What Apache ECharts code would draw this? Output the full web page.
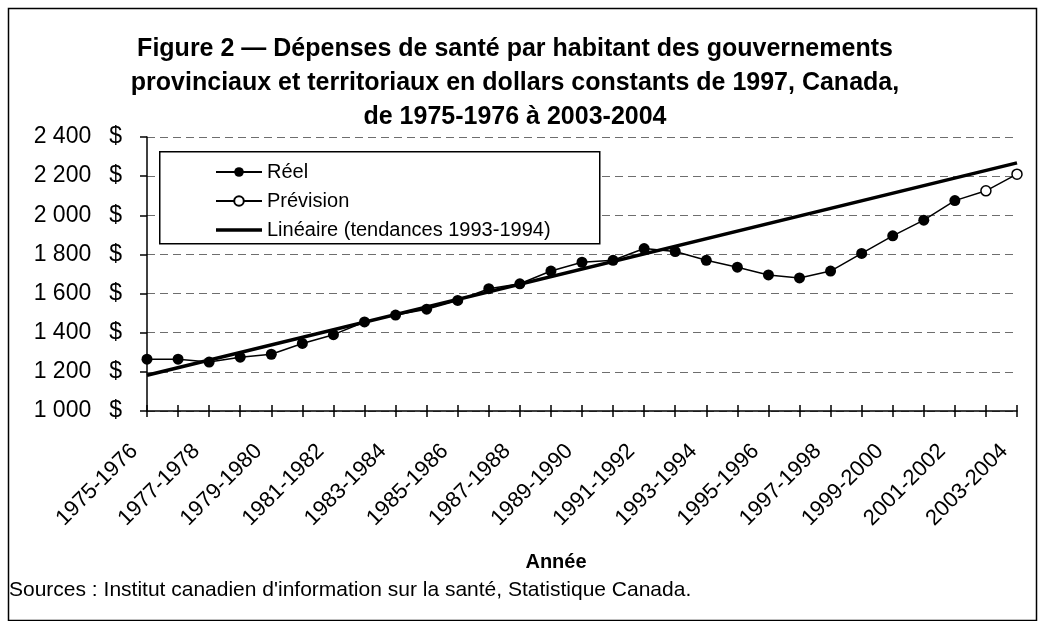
<!DOCTYPE html>
<html>
<head>
<meta charset="utf-8">
<script src="https://cdn.jsdelivr.net/npm/echarts@6/dist/echarts.min.js"></script>
<style>
  html,body{margin:0;padding:0;background:#fff;}
  #main{width:1042px;height:621px;}
</style>
</head>
<body>
<div id="main"></div>
<script>
var annees=['1975-1976','1976-1977','1977-1978','1978-1979','1979-1980','1980-1981','1981-1982','1982-1983','1983-1984','1984-1985',
  '1985-1986','1986-1987','1987-1988','1988-1989','1989-1990','1990-1991','1991-1992','1992-1993','1993-1994','1994-1995',
  '1995-1996','1996-1997','1997-1998','1998-1999','1999-2000','2000-2001','2001-2002','2002-2003','2003-2004'];
// valeurs reelles 1975-1976 a 2001-2002
var reel=[1265,1265,1250,1275,1290,1345,1390,1455,1490,1520,1565,1625,1650,1715,1760,1770,1830,1815,1770,1735,1695,1680,1715,1805,1895,1975,2075];
// prevision 2002-2003 et 2003-2004
var prevision=[2125,2210];
// tendance lineaire : valeurs aux extremites
var tendanceDebut=1183;
var tendanceFin=2268;
var yTicks=[1000,1200,1400,1600,1800,2000,2200,2400];

var police='"Liberation Sans", Arial, sans-serif';

var dataReel=[],dataPrev=[],dataTend=[];
for(var i=0;i<annees.length;i++){
    dataReel.push(i<reel.length?reel[i]:null);
    if(i<reel.length-1){
        dataPrev.push(null);
    }else if(i==reel.length-1){
        dataPrev.push({value:reel[i],symbol:'none'});
    }else{
        dataPrev.push(prevision[i-reel.length]);
    }
    if(i==0){dataTend.push(tendanceDebut);}
    else if(i==annees.length-1){dataTend.push(tendanceFin);}
    else{dataTend.push(null);}
}

function fmt(v){
    var s=String(v);
    if(s.length>3){s=s.slice(0,s.length-3)+' '+s.slice(s.length-3);}
    return '{n|'+s+'}{d|$}';
}

var myChart=echarts.init(document.getElementById('main'),null,{renderer:'canvas'});
var option={
    backgroundColor:'#fff',
    animation:false,
    textStyle:{fontFamily:police,color:'#000'},
    title:{
        text:'Figure 2 \u2014 Dépenses de santé par habitant des gouvernements\nprovinciaux et territoriaux en dollars constants de 1997, Canada,\nde 1975-1976 à 2003-2004',
        left:510,
        textAlign:'center',
        top:27,
        textStyle:{fontFamily:police,fontSize:25,fontWeight:'bold',color:'#000',lineHeight:34}
    },
    legend:{
        orient:'vertical',
        left:210,
        top:157,
        z:20,
        itemWidth:46,
        itemHeight:12,
        itemGap:9,
        symbolKeepAspect:true,
        data:['Réel','Prévision',{name:'Linéaire (tendances 1993-1994)',icon:'path://M0,0H46V3.5H0Z'}],
        textStyle:{fontFamily:police,fontSize:20,color:'#000'}
    },
    grid:[
        {left:147,right:25,top:137,bottom:210,containLabel:false},
        {left:147,right:25,top:137,bottom:210,containLabel:false}
    ],
    xAxis:[{
        type:'category',
        data:annees,
        boundaryGap:false,
        gridIndex:0,
        axisLine:{lineStyle:{color:'#000',width:1.5}},
        axisTick:{interval:0,length:6,lineStyle:{color:'#000',width:1.5}},
        axisLabel:{interval:1,rotate:45,margin:24,padding:[0,18,0,0],fontSize:22,color:'#000',fontFamily:police},
        splitLine:{show:false}
    },{
        type:'category',
        data:annees,
        boundaryGap:false,
        gridIndex:1,
        axisLine:{show:false},
        axisTick:{inside:true,interval:0,length:6,lineStyle:{color:'#000',width:1.5}},
        axisLabel:{show:false},
        splitLine:{show:false}
    }],
    yAxis:[{
        type:'value',
        min:yTicks[0],
        max:yTicks[yTicks.length-1],
        interval:200,
        gridIndex:0,
        axisLine:{show:true,lineStyle:{color:'#000',width:1.5}},
        axisTick:{show:true,length:7,lineStyle:{color:'#000',width:1.5}},
        axisLabel:{
            margin:25,
            formatter:fmt,
            rich:{
                n:{fontSize:23,fontFamily:police,color:'#000'},
                d:{fontSize:23,fontFamily:police,color:'#000',padding:[0,0,0,18]}
            }
        },
        splitLine:{show:true,lineStyle:{color:'#6e6e6e',type:[8,5],width:1}}
    },{
        type:'value',gridIndex:1,min:yTicks[0],max:yTicks[yTicks.length-1],show:false
    }],
    series:[
        {
            name:'Linéaire (tendances 1993-1994)',
            type:'line',
            data:dataTend,
            connectNulls:true,
            symbol:'none',
            lineStyle:{color:'#000',width:3.5},
            itemStyle:{color:'#000'},
            z:2
        },
        {
            name:'Réel',
            type:'line',
            data:dataReel,
            symbol:'circle',
            symbolSize:11,
            lineStyle:{color:'#000',width:1.5},
            itemStyle:{color:'#000'},
            z:3
        },
        {
            name:'Prévision',
            type:'line',
            data:dataPrev,
            symbol:'circle',
            symbolSize:10,
            lineStyle:{color:'#000',width:1.5},
            itemStyle:{color:'#fff',borderColor:'#000',borderWidth:1.5},
            z:3
        }
    ],
    graphic:[
        {type:'rect',left:6,top:6,shape:{width:1028,height:612},style:{fill:'none',stroke:'#000',lineWidth:1.5},z:-1,silent:true},
        {type:'rect',left:159,top:151,shape:{width:440,height:92},style:{fill:'#fff',stroke:'#000',lineWidth:1.5},z:10,silent:true},
        {type:'text',x:556,y:562,style:{text:'Année',font:'bold 20px "Liberation Sans", Arial, sans-serif',fill:'#000',textAlign:'center',textVerticalAlign:'middle'},silent:true},
        {type:'text',x:9,y:590,style:{text:"Sources : Institut canadien d'information sur la santé, Statistique Canada.",font:'21px "Liberation Sans", Arial, sans-serif',fill:'#000',textVerticalAlign:'middle'},silent:true}
    ]
};
myChart.setOption(option);
</script>
</body>
</html>
